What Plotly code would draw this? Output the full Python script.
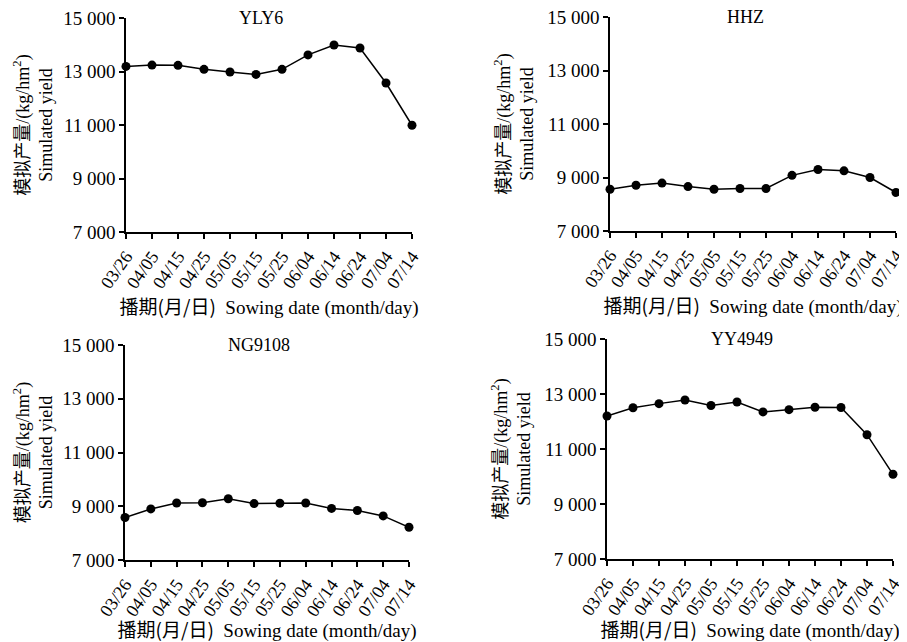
import plotly.graph_objects as go

dates = ["03/26", "04/05", "04/15", "04/25", "05/05", "05/15", "05/25",
         "06/04", "06/14", "06/24", "07/04", "07/14"]
yly6 = [13190, 13240, 13230, 13080, 12980, 12890, 13080, 13620, 13990, 13880, 12570, 10990]
hhz = [8560, 8710, 8790, 8660, 8560, 8590, 8590, 9080, 9300, 9250, 9000, 8440]
ng9108 = [8580, 8900, 9120, 9130, 9280, 9100, 9110, 9120, 8920, 8840, 8640, 8220]
yy4949 = [12200, 12500, 12650, 12780, 12580, 12710, 12350, 12430, 12520, 12510, 11520, 10080]
names = ["YLY6", "HHZ", "NG9108", "YY4949"]
series = [yly6, hhz, ng9108, yy4949]
ytickvals = [7000, 9000, 11000, 13000, 15000]
yticktext = ["7 000", "9 000", "11 000", "13 000", "15 000"]

OFF = 8  # page body margin
W, H = 907 - OFF, 642 - OFF
FONT = "Liberation Serif, Times New Roman, Noto Sans CJK SC, serif"
CJK = "font-family:'Noto Sans CJK SC'"
# page pixel boxes: (x0, x1, ytop, ybottom)
boxes = [(126, 412, 18, 232), (610, 896, 17, 231), (125, 409, 345, 560), (607, 893, 339, 559)]

xtitle = f"<span style=\"{CJK}\">播期(月/日)</span>  Sowing date (month/day)"
ytitle = f"<span style=\"{CJK}\">模拟产量</span>/(kg/hm<sup>2</sup>)<br>Simulated yield"

fig = go.Figure()
xs = list(range(len(dates)))
for i, (nm, ys, b) in enumerate(zip(names, series, boxes)):
    k = "" if i == 0 else str(i + 1)
    fig.add_trace(go.Scatter(
        x=xs, y=ys, mode="lines+markers",
        line=dict(color="black", width=1.5),
        marker=dict(color="black", size=9),
        cliponaxis=False, showlegend=False,
        xaxis="x" + k, yaxis="y" + k))
    x0, x1, yt, yb = [v - OFF for v in b]
    fig.layout["xaxis" + k] = dict(
        domain=[x0 / W, x1 / W], anchor="y" + k, range=[0, 11],
        tickvals=xs, ticktext=dates, tickangle=-55, ticklabeloverflow="allow",
        showline=True, linecolor="black", linewidth=1.5,
        ticks="outside", ticklen=5, tickcolor="black", tickwidth=1.5,
        showgrid=False, zeroline=False, automargin=False,
        tickfont=dict(family=FONT, size=18, color="black"),
        title=dict(text=xtitle,
                   font=dict(family=FONT, size=19, color="black"), standoff=8))
    fig.layout["yaxis" + k] = dict(
        domain=[1 - yb / H, 1 - yt / H], anchor="x" + k, range=[7000, 15000],
        tickvals=ytickvals, ticktext=yticktext, ticklabeloverflow="allow",
        showline=True, linecolor="black", linewidth=1.5,
        ticks="outside", ticklen=5, tickcolor="black", tickwidth=1.5,
        showgrid=False, zeroline=False, automargin=False,
        tickfont=dict(family=FONT, size=19, color="black"),
        title=dict(text=ytitle,
                   font=dict(family=FONT, size=18, color="black"), standoff=9))
    fig.add_annotation(text=nm, x=0.5, xref="x%s domain" % k,
                       y=1.0, yref="y%s domain" % k, yanchor="middle", xanchor="center",
                       showarrow=False, xshift=-8, yshift=0,
                       font=dict(family=FONT, size=18, color="black"))

fig.update_layout(width=W, height=H, margin=dict(l=0, r=0, t=0, b=0),
                  paper_bgcolor="white", plot_bgcolor="white")
fig.write_html("out.html")
